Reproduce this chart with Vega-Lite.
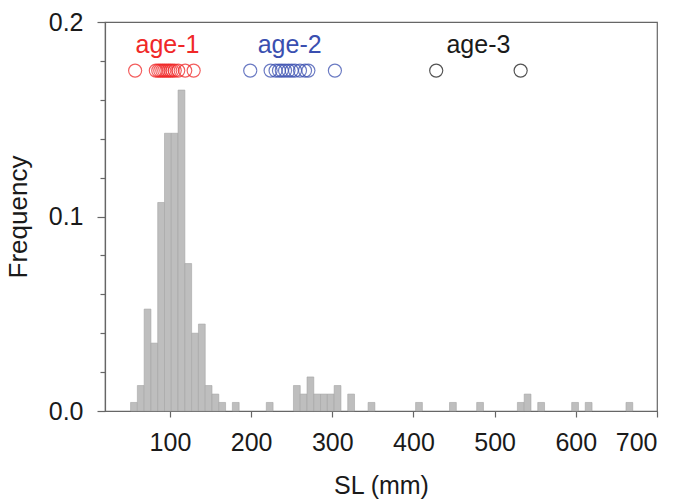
{
  "$schema": "https://vega.github.io/schema/vega-lite/v6.json",
  "width": 552,
  "height": 389,
  "autosize": {"type": "none"},
  "padding": {"left": 105, "top": 22, "right": 23, "bottom": 90},
  "background": "white",
  "config": {
    "font": "Liberation Sans",
    "view": {"stroke": "#666666", "strokeWidth": 1.2},
    "axis": {"domainColor": "#666666", "tickColor": "#666666", "labelColor": "#1a1a1a", "titleColor": "#1a1a1a", "grid": false, "labelFont": "Liberation Sans", "titleFont": "Liberation Sans", "titleFontWeight": "normal", "domainWidth": 1.2, "tickWidth": 1.2}
  },
  "datasets": {
    "hist": [
      {"bin_start": 51.5, "bin_end": 59.86, "freq": 0.0044},
      {"bin_start": 59.86, "bin_end": 68.22, "freq": 0.0131},
      {"bin_start": 68.22, "bin_end": 76.58, "freq": 0.0524},
      {"bin_start": 76.58, "bin_end": 84.94, "freq": 0.0349},
      {"bin_start": 84.94, "bin_end": 93.3, "freq": 0.1072},
      {"bin_start": 93.3, "bin_end": 101.66, "freq": 0.1428},
      {"bin_start": 101.66, "bin_end": 110.02, "freq": 0.1428},
      {"bin_start": 110.02, "bin_end": 118.38, "freq": 0.1650},
      {"bin_start": 118.38, "bin_end": 126.74, "freq": 0.0758},
      {"bin_start": 126.74, "bin_end": 135.1, "freq": 0.0400},
      {"bin_start": 135.1, "bin_end": 143.46, "freq": 0.0447},
      {"bin_start": 143.46, "bin_end": 151.82, "freq": 0.0131},
      {"bin_start": 151.82, "bin_end": 160.18, "freq": 0.0087},
      {"bin_start": 160.18, "bin_end": 168.54, "freq": 0.0044},
      {"bin_start": 176.9, "bin_end": 185.26, "freq": 0.0044},
      {"bin_start": 218.7, "bin_end": 227.06, "freq": 0.0044},
      {"bin_start": 252.14, "bin_end": 260.5, "freq": 0.0131},
      {"bin_start": 260.5, "bin_end": 268.86, "freq": 0.0087},
      {"bin_start": 268.86, "bin_end": 277.22, "freq": 0.0175},
      {"bin_start": 277.22, "bin_end": 285.58, "freq": 0.0087},
      {"bin_start": 285.58, "bin_end": 293.94, "freq": 0.0087},
      {"bin_start": 293.94, "bin_end": 302.3, "freq": 0.0087},
      {"bin_start": 302.3, "bin_end": 310.66, "freq": 0.0131},
      {"bin_start": 319.02, "bin_end": 327.38, "freq": 0.0087},
      {"bin_start": 344.1, "bin_end": 352.46, "freq": 0.0044},
      {"bin_start": 402.62, "bin_end": 410.98, "freq": 0.0044},
      {"bin_start": 444.42, "bin_end": 452.78, "freq": 0.0044},
      {"bin_start": 477.86, "bin_end": 486.22, "freq": 0.0044},
      {"bin_start": 528.02, "bin_end": 536.38, "freq": 0.0044},
      {"bin_start": 536.38, "bin_end": 544.74, "freq": 0.0087},
      {"bin_start": 553.1, "bin_end": 561.46, "freq": 0.0044},
      {"bin_start": 594.9, "bin_end": 603.26, "freq": 0.0044},
      {"bin_start": 611.62, "bin_end": 619.98, "freq": 0.0044},
      {"bin_start": 661.78, "bin_end": 670.14, "freq": 0.0044}
    ],
    "ages": [
      {"age": "age-1", "sl": 57.1},
      {"age": "age-1", "sl": 82.6},
      {"age": "age-1", "sl": 85.6},
      {"age": "age-1", "sl": 88.1},
      {"age": "age-1", "sl": 90.6},
      {"age": "age-1", "sl": 93.0},
      {"age": "age-1", "sl": 95.5},
      {"age": "age-1", "sl": 98.0},
      {"age": "age-1", "sl": 100.4},
      {"age": "age-1", "sl": 102.9},
      {"age": "age-1", "sl": 105.9},
      {"age": "age-1", "sl": 110.2},
      {"age": "age-1", "sl": 118.8},
      {"age": "age-1", "sl": 129.2},
      {"age": "age-2", "sl": 198.9},
      {"age": "age-2", "sl": 224.0},
      {"age": "age-2", "sl": 230.1},
      {"age": "age-2", "sl": 234.3},
      {"age": "age-2", "sl": 237.8},
      {"age": "age-2", "sl": 241.8},
      {"age": "age-2", "sl": 246.0},
      {"age": "age-2", "sl": 250.0},
      {"age": "age-2", "sl": 254.1},
      {"age": "age-2", "sl": 260.2},
      {"age": "age-2", "sl": 266.4},
      {"age": "age-2", "sl": 270.5},
      {"age": "age-2", "sl": 303.2},
      {"age": "age-3", "sl": 428.0},
      {"age": "age-3", "sl": 532.0}
    ]
  },
  "resolve": {"axis": {"y": "independent"}},
  "layer": [
    {
      "data": {"name": "hist"},
      "mark": {"type": "rect", "fill": "#BEBEBE", "stroke": "#A4A4A4", "strokeWidth": 0.6},
      "encoding": {
        "x": {"field": "bin_start", "type": "quantitative", "title": "SL (mm)",
          "scale": {"domain": [20, 700], "nice": false, "zero": false},
          "axis": {"values": [100, 200, 300, 400, 500, 600, 700], "tickSize": 6, "labelFontSize": 25, "titleFontSize": 25, "labelPadding": 13, "titlePadding": 18}},
        "x2": {"field": "bin_end"},
        "y": {"field": "freq", "type": "quantitative", "title": "Frequency",
          "scale": {"domain": [0, 0.2], "nice": false},
          "axis": {"orient": "left", "values": [0, 0.1, 0.2], "format": ".1f", "tickSize": 8, "labelFontSize": 25, "titleFontSize": 26, "labelPadding": 14, "titlePadding": 17}},
        "y2": {"datum": 0}
      }
    },
    {
      "data": {"name": "ages"},
      "mark": {"type": "point", "shape": "circle", "filled": false, "size": 170, "strokeWidth": 1.2, "opacity": 0.75},
      "encoding": {
        "x": {"field": "sl", "type": "quantitative", "title": "SL (mm)"},
        "y": {"datum": 0.175, "type": "quantitative", "axis": {"orient": "left", "values": [0.02, 0.04, 0.06, 0.08, 0.12, 0.14, 0.16, 0.18], "labels": false, "domain": false, "tickSize": 5, "title": null}},
        "color": {"field": "age", "type": "nominal", "legend": null,
          "scale": {"domain": ["age-1", "age-2", "age-3"], "range": ["#F02828", "#3A4FB0", "#1a1a1a"]}}
      }
    },
    {
      "data": {"name": "ages"},
      "mark": {"type": "text", "fontSize": 25, "align": "center", "baseline": "middle", "font": "Liberation Sans"},
      "encoding": {
        "x": {"aggregate": "mean", "field": "sl", "type": "quantitative", "title": "SL (mm)"},
        "y": {"datum": 0.188, "type": "quantitative", "axis": null},
        "text": {"field": "age", "type": "nominal"},
        "color": {"field": "age", "type": "nominal", "legend": null}
      }
    }
  ]
}
